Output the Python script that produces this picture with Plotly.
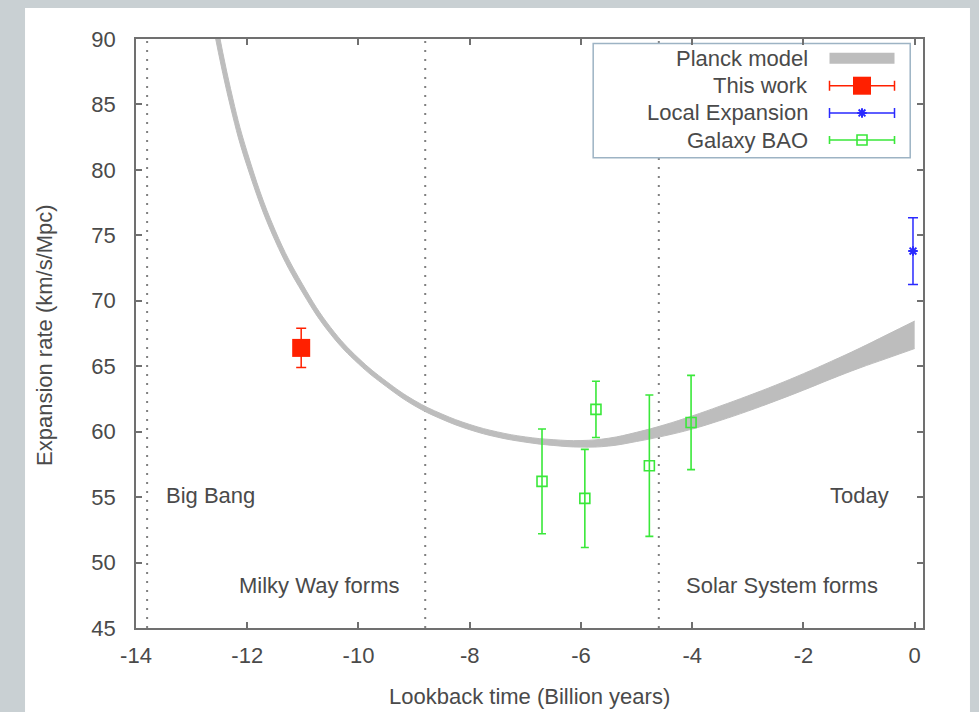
import plotly.graph_objects as go

# ---------------- data ----------------
# Planck model band: lookback time, lower and upper edge
band_t = [-12.6, -12.3, -12.0, -11.5, -11.0, -10.5, -10.0, -9.5, -9.0, -8.5, -8.0,
          -7.5, -7.0, -6.5, -6.0, -5.5, -5.0, -4.5, -4.0, -3.5, -3.0, -2.5, -2.0,
          -1.5, -1.0, -0.5, 0.0]
band_lo = [90.7, 84.8, 80.25, 74.6, 70.58, 67.44, 65.18, 63.45, 62.0, 60.95, 60.15,
           59.58, 59.2, 58.95, 58.82, 58.9, 59.25, 59.68, 60.2, 60.85, 61.57, 62.35, 63.17,
           64.03, 64.85, 65.6, 66.35]
band_hi = [92.5, 86.2, 81.35, 75.4, 71.22, 67.96, 65.62, 63.85, 62.4, 61.35, 60.55,
           59.98, 59.6, 59.39, 59.32, 59.5, 59.95, 60.52, 61.2, 61.95, 62.73, 63.55, 64.43,
           65.37, 66.35, 67.4, 68.45]

# This work
tw_t = [-11.03]
tw_h = [66.4]
tw_err = [1.5]

# Local expansion
le_t = [-0.03]
le_h = [73.8]
le_err = [2.55]

# Galaxy BAO
bao_t = [-6.70, -5.93, -5.73, -4.77, -4.02]
bao_h = [56.2, 54.9, 61.7, 57.4, 60.7]
bao_err = [4.0, 3.75, 2.15, 5.4, 3.6]

# Epoch markers
epoch_t = [-13.8, -8.8, -4.6]

x_ticks = [-14, -12, -10, -8, -6, -4, -2, 0]
x_tick_text = ["-14", "-12", "-10", "-8", "-6", "-4", "-2", "0"]
y_ticks = [45, 50, 55, 60, 65, 70, 75, 80, 85, 90]

legend_names = ["Planck model", "This work", "Local Expansion", "Galaxy BAO"]

# ---------------- style ----------------
FONT = "Liberation Sans, Arial, sans-serif"
TXT = "#4a4a4a"
AX = "#707070"
BAND = "#bdbdbd"
RED = "#ff2000"
BLUE = "#2a2aff"
GREEN = "#3ae83a"

fig = go.Figure()

# Planck band
fig.add_trace(go.Scatter(x=band_t, y=band_lo, mode="lines",
                         line=dict(color=BAND, width=1, shape="spline", smoothing=1.2),
                         hoverinfo="skip", showlegend=False))
fig.add_trace(go.Scatter(x=band_t, y=band_hi, mode="lines",
                         line=dict(color=BAND, width=1, shape="spline", smoothing=1.2),
                         fill="tonexty", fillcolor=BAND, hoverinfo="skip", showlegend=False))

# Galaxy BAO
fig.add_trace(go.Scatter(x=bao_t, y=bao_h, mode="markers",
                         marker=dict(symbol="square-open", size=10, color=GREEN, line=dict(width=1.6, color=GREEN)),
                         error_y=dict(type="data", array=bao_err, color=GREEN, thickness=1.6, width=4),
                         showlegend=False))
# This work
fig.add_trace(go.Scatter(x=tw_t, y=tw_h, mode="markers",
                         marker=dict(symbol="square", size=18, color=RED),
                         error_y=dict(type="data", array=tw_err, color=RED, thickness=1.5, width=5),
                         showlegend=False))
# Local expansion
fig.add_trace(go.Scatter(x=le_t, y=le_h, mode="markers",
                         marker=dict(symbol="asterisk-open", size=8, color=BLUE, line=dict(width=2, color=BLUE)),
                         error_y=dict(type="data", array=le_err, color=BLUE, thickness=1.5, width=5),
                         showlegend=False))

# ---------------- manual legend (overlay axes 0..1) ----------------
lx, lhalf = 0.9225, 0.0413
rows = [0.9672, 0.9207, 0.8744, 0.8285]
fig.add_trace(go.Scatter(x=[lx - lhalf, lx + lhalf], y=[rows[0], rows[0]], mode="lines",
                         line=dict(color=BAND, width=11), xaxis="x2", yaxis="y2",
                         hoverinfo="skip", showlegend=False))
fig.add_trace(go.Scatter(x=[lx], y=[rows[1]], mode="markers", marker=dict(symbol="square", size=18, color=RED),
                         error_x=dict(type="data", array=[lhalf], color=RED, thickness=1.5, width=5),
                         xaxis="x2", yaxis="y2", hoverinfo="skip", showlegend=False))
fig.add_trace(go.Scatter(x=[lx], y=[rows[2]], mode="markers",
                         marker=dict(symbol="asterisk-open", size=8, color=BLUE, line=dict(width=2, color=BLUE)),
                         error_x=dict(type="data", array=[lhalf], color=BLUE, thickness=1.5, width=5),
                         xaxis="x2", yaxis="y2", hoverinfo="skip", showlegend=False))
fig.add_trace(go.Scatter(x=[lx], y=[rows[3]], mode="markers",
                         marker=dict(symbol="square-open", size=10, color=GREEN, line=dict(width=1.6, color=GREEN)),
                         error_x=dict(type="data", array=[lhalf], color=GREEN, thickness=1.6, width=4),
                         xaxis="x2", yaxis="y2", hoverinfo="skip", showlegend=False))

shapes = []
# white panel behind the chart
shapes.append(dict(type="rect", xref="paper", yref="paper", x0=-0.141, x1=1.0597, y0=-0.2, y1=1.0526,
                   fillcolor="white", line=dict(width=0), layer="below"))
# epoch dotted lines
for t in epoch_t:
    shapes.append(dict(type="line", xref="x", yref="y", x0=t, x1=t, y0=45, y1=90,
                       line=dict(color="#808080", width=2, dash="2px,7px"), layer="below"))
# legend box (covers dotted line)
shapes.append(dict(type="rect", xref="x", yref="y", x0=-5.78, x1=-0.08, y0=80.93, y1=89.65,
                   fillcolor="white", line=dict(color="#9db3c4", width=1.5), layer="below"))

annotations = []
for name, ry in zip(legend_names, rows):
    annotations.append(dict(xref="x2", yref="y2", x=0.8564, y=ry, text=name, showarrow=False,
                            xanchor="right", yanchor="middle", font=dict(family=FONT, size=22, color=TXT)))
labels = [("Big Bang", -12.66, 55.15), ("Today", -0.99, 55.15),
          ("Milky Way forms", -10.70, 48.28), ("Solar System forms", -2.38, 48.28)]
for txt, x, y in labels:
    annotations.append(dict(xref="x", yref="y", x=x, y=y, text=txt, showarrow=False,
                            xanchor="center", yanchor="middle", font=dict(family=FONT, size=22, color=TXT)))
annotations.append(dict(xref="paper", yref="paper", x=0.5, y=-0.117, text="Lookback time (Billion years)",
                        showarrow=False, xanchor="center", yanchor="middle",
                        font=dict(family=FONT, size=22, color=TXT)))
annotations.append(dict(xref="paper", yref="paper", x=-0.1156, y=0.4975, text="Expansion rate (km/s/Mpc)",
                        showarrow=False, xanchor="center", yanchor="middle", textangle=-90,
                        font=dict(family=FONT, size=22, color=TXT)))

fig.update_layout(
    width=979, height=712,
    margin=dict(l=136, r=56, t=39, b=84),
    paper_bgcolor="#c9d0d3",
    plot_bgcolor="white",
    showlegend=False,
    shapes=shapes,
    annotations=annotations,
    xaxis=dict(range=[-14, 0.15], tickvals=x_ticks, ticktext=x_tick_text, ticks="inside", ticklen=6,
               tickwidth=1.5, tickcolor=AX, showline=True, linecolor=AX, linewidth=1.8, mirror="ticks",
               showgrid=False, zeroline=False, ticklabelstandoff=7,
               tickfont=dict(family=FONT, size=22, color=TXT)),
    yaxis=dict(range=[45, 90], tickvals=y_ticks, ticks="inside", ticklen=6,
               tickwidth=1.5, tickcolor=AX, showline=True, linecolor=AX, linewidth=1.8, mirror="ticks",
               showgrid=False, zeroline=False, ticklabelstandoff=14,
               tickfont=dict(family=FONT, size=22, color=TXT)),
    xaxis2=dict(overlaying="x", range=[0, 1], visible=False, fixedrange=True),
    yaxis2=dict(overlaying="y", range=[0, 1], visible=False, fixedrange=True),
)

fig.write_html("out.html")
